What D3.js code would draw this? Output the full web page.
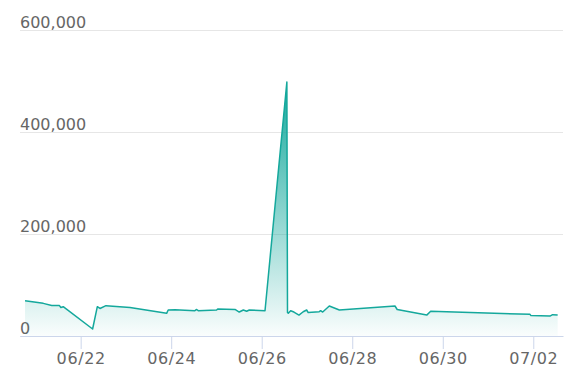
<!DOCTYPE html>
<html>
<head>
<meta charset="utf-8">
<script src="https://cdn.jsdelivr.net/npm/d3@7"></script>
<style>
  body { margin: 0; background: #fff; }
  svg { display: block; }
</style>
</head>
<body>
<script>
// readings (time, value)
var times = [
  "2023-06-20 18:30", "2023-06-21 04:10", "2023-06-21 08:40", "2023-06-21 12:40",
  "2023-06-21 13:30", "2023-06-21 14:45", "2023-06-22 06:20", "2023-06-22 08:50",
  "2023-06-22 10:15", "2023-06-22 13:25", "2023-06-23 02:10", "2023-06-23 21:35",
  "2023-06-23 22:25", "2023-06-24 02:00", "2023-06-24 12:35", "2023-06-24 13:30",
  "2023-06-24 14:20", "2023-06-25 00:05", "2023-06-25 00:40", "2023-06-25 09:50",
  "2023-06-25 12:05", "2023-06-25 14:15", "2023-06-25 16:00", "2023-06-25 17:25",
  "2023-06-26 01:45", "2023-06-26 13:20", "2023-06-26 13:40", "2023-06-26 14:05",
  "2023-06-26 15:20", "2023-06-26 17:05", "2023-06-26 19:45", "2023-06-26 22:00",
  "2023-06-26 23:50", "2023-06-27 00:40", "2023-06-27 06:30", "2023-06-27 07:15",
  "2023-06-27 08:20", "2023-06-27 11:50", "2023-06-27 17:10", "2023-06-28 22:40",
  "2023-06-28 23:50", "2023-06-29 15:30", "2023-06-29 17:35", "2023-07-01 22:15",
  "2023-07-01 22:45", "2023-07-02 08:50", "2023-07-02 10:15", "2023-07-02 12:55"
];
var values = [
  69000, 64000, 60000, 60000,
  56000, 57500, 13700, 57500,
  54000, 59500, 56000, 44500,
  51000, 51500, 49600, 52000,
  49600, 51000, 53000, 52000,
  47000, 51000, 48500, 51000,
  49600, 498000, 46000, 44500,
  49600, 47000, 41000, 47600,
  51000, 46000, 47600, 49600,
  47000, 58800, 51000, 58800,
  52000, 41000, 48500, 42500,
  40000, 39000, 41800, 41000
];
var xTickLabels = ["06/22", "06/24", "06/26", "06/28", "06/30", "07/02"];
var yTicks = [0, 200000, 400000, 600000];

var parseTime = d3.timeParse("%Y-%m-%d %H:%M");
var parseTick = d3.timeParse("%Y-%m/%d");

var data = times.map(function(t, i) { return [parseTime(t), values[i]]; });

var margin = {top: 30, right: 18, bottom: 49, left: 20},
  width = 581 - margin.left - margin.right,
  height = 385 - margin.top - margin.bottom;

var x = d3.scaleTime()
  .domain([parseTime("2023-06-20 15:50"), parseTime("2023-07-02 15:45")])
  .range([0, width]);

var y = d3.scaleLinear()
  .domain([0, 600000])
  .range([height, 0]);

var svg = d3.select("body").append("svg")
  .attr("width", 581)
  .attr("height", 385)
  .append("g")
  .attr("transform", "translate(" + margin.left + "," + margin.top + ")");

// gradient for the area
var grad = svg.append("defs").append("linearGradient")
  .attr("id", "fillGrad")
  .attr("gradientUnits", "userSpaceOnUse")
  .attr("x1", 0).attr("x2", 0)
  .attr("y1", y(d3.max(values)))
  .attr("y2", y(0));
grad.append("stop").attr("offset", "0%").attr("stop-color", "#14a89c").attr("stop-opacity", 1);
grad.append("stop").attr("offset", "100%").attr("stop-color", "#14a89c").attr("stop-opacity", 0.02);

// gridlines + y labels
var yAxis = d3.axisRight(y)
  .tickValues(yTicks)
  .tickSize(width)
  .tickFormat(d3.format(","));

var gy = svg.append("g").call(yAxis);
gy.select(".domain").remove();
gy.selectAll(".tick line").attr("stroke", "#e6e6e6");
gy.selectAll(".tick text")
  .attr("x", 0)
  .attr("y", -3)
  .attr("dy", 0)
  .attr("text-anchor", "start")
  .attr("fill", "#666")
  .style("font-family", "'DejaVu Sans', sans-serif")
  .style("font-size", "16px");

var area = d3.area()
  .x(function(d) { return x(d[0]); })
  .y0(y(0))
  .y1(function(d) { return y(d[1]); });

var line = d3.line()
  .x(function(d) { return x(d[0]); })
  .y(function(d) { return y(d[1]); });

svg.append("path")
  .datum(data)
  .attr("fill", "url(#fillGrad)")
  .attr("d", area);

svg.append("path")
  .datum(data)
  .attr("fill", "none")
  .attr("stroke", "#14a89c")
  .attr("stroke-width", 1.5)
  .attr("stroke-linejoin", "round")
  .attr("d", line);

// x axis
var xAxis = d3.axisBottom(x)
  .tickValues(xTickLabels.map(function(s) { return parseTick("2023-" + s); }))
  .tickFormat(d3.timeFormat("%m/%d"))
  .tickSize(13)
  .tickSizeOuter(0);

var gx = svg.append("g")
  .attr("transform", "translate(0," + height + ")")
  .call(xAxis);
gx.select(".domain").attr("stroke", "#ccd6eb");
gx.selectAll(".tick line").attr("stroke", "#ccd6eb");
gx.selectAll(".tick text")
  .attr("y", 28)
  .attr("dy", 0)
  .attr("fill", "#666")
  .style("font-family", "'DejaVu Sans', sans-serif")
  .style("font-size", "16px")
  .style("letter-spacing", "0.6px");
</script>
</body>
</html>
